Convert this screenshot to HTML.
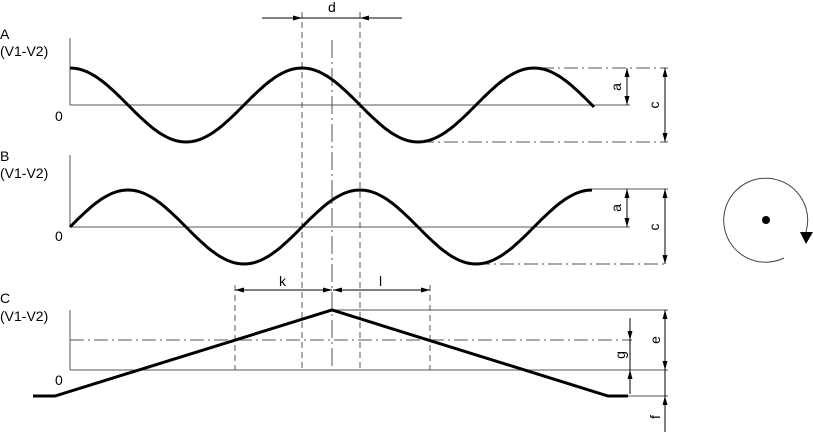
<!DOCTYPE html>
<html><head><meta charset="utf-8"><style>
body{margin:0;background:#fff;}
svg{display:block;font-family:"Liberation Sans",sans-serif;}
text{font-size:14px;fill:#000;}
</style></head><body>
<svg id="s" width="813" height="432" viewBox="0 0 813 432" xmlns="http://www.w3.org/2000/svg">
<defs>
<marker id="ar" markerWidth="9" markerHeight="6" refX="9" refY="3" orient="auto" markerUnits="userSpaceOnUse"><path d="M0,0.5 L9,3 L0,5.5 z" fill="#000"/></marker>
</defs>
<g stroke="#555" stroke-width="1" fill="none">
<line x1="70" y1="38" x2="70" y2="105"/>
<line x1="70" y1="105" x2="630" y2="105"/>
<line x1="540" y1="68" x2="668" y2="68" stroke-dasharray="14,4,2,4"/>
<line x1="420" y1="142" x2="668" y2="142" stroke-dasharray="14,4,2,4"/>
<line x1="70" y1="155" x2="70" y2="227"/>
<line x1="70" y1="227" x2="630" y2="227"/>
<line x1="592" y1="189" x2="668" y2="189"/>
<line x1="476" y1="264" x2="668" y2="264" stroke-dasharray="14,4,2,4"/>
<line x1="70" y1="310" x2="70" y2="370"/>
<line x1="70" y1="370" x2="668" y2="370"/>
<line x1="332" y1="310" x2="668" y2="310"/>
<line x1="628" y1="396" x2="668" y2="396"/>
<line x1="70" y1="340" x2="632" y2="340" stroke-dasharray="14,4,2,4"/>
<line x1="302" y1="12" x2="302" y2="370" stroke-dasharray="6,4"/>
<line x1="360" y1="12" x2="360" y2="370" stroke-dasharray="6,4"/>
<line x1="332" y1="40" x2="332" y2="370" stroke-dasharray="18,4,2,4"/>
<line x1="235" y1="285" x2="235" y2="370" stroke-dasharray="6,4"/>
<line x1="430" y1="285" x2="430" y2="370" stroke-dasharray="6,4"/>
</g>
<g stroke="#000" stroke-width="1" fill="none">
<line x1="262" y1="18" x2="302" y2="18" marker-end="url(#ar)"/>
<line x1="302" y1="18" x2="360" y2="18"/>
<line x1="402" y1="18" x2="360" y2="18" marker-end="url(#ar)"/>
<line x1="627" y1="86" x2="627" y2="68" marker-end="url(#ar)"/>
<line x1="627" y1="86" x2="627" y2="105" marker-end="url(#ar)"/>
<line x1="665" y1="105" x2="665" y2="68" marker-end="url(#ar)"/>
<line x1="665" y1="105" x2="665" y2="142" marker-end="url(#ar)"/>
<line x1="627" y1="208" x2="627" y2="189" marker-end="url(#ar)"/>
<line x1="627" y1="208" x2="627" y2="227" marker-end="url(#ar)"/>
<line x1="665" y1="226" x2="665" y2="189" marker-end="url(#ar)"/>
<line x1="665" y1="226" x2="665" y2="264" marker-end="url(#ar)"/>
<line x1="283" y1="290" x2="235" y2="290" marker-end="url(#ar)"/>
<line x1="283" y1="290" x2="332" y2="290" marker-end="url(#ar)"/>
<line x1="381" y1="290" x2="333" y2="290" marker-end="url(#ar)"/>
<line x1="381" y1="290" x2="430" y2="290" marker-end="url(#ar)"/>
<line x1="630" y1="318" x2="630" y2="340" marker-end="url(#ar)"/>
<line x1="630" y1="340" x2="630" y2="370"/>
<line x1="630" y1="394" x2="630" y2="370" marker-end="url(#ar)"/>
<line x1="665" y1="340" x2="665" y2="310" marker-end="url(#ar)"/>
<line x1="665" y1="340" x2="665" y2="370" marker-end="url(#ar)"/>
<line x1="665" y1="370" x2="665" y2="396"/>
<line x1="665" y1="432" x2="665" y2="396" marker-end="url(#ar)"/>
</g>
<path id="wa" stroke="#000" stroke-width="3" fill="none"/>
<path id="wb" stroke="#000" stroke-width="3" fill="none"/>
<polyline points="33,396 55,396 332,310 608,396 628,396" stroke="#000" stroke-width="3" fill="none"/>
<path d="M784,258 A42,42 0 1 1 806,232" stroke="#444" stroke-width="1" fill="none"/>
<path d="M800,232 L813,232 L806,244 z" fill="#000"/>
<circle cx="766" cy="220" r="4" fill="#000"/>
<text x="0" y="39">A</text><text x="0" y="56">(V1-V2)</text><text x="55" y="121">0</text>
<text x="0" y="161">B</text><text x="0" y="178">(V1-V2)</text><text x="55" y="241">0</text>
<text x="0" y="303">C</text><text x="0" y="321">(V1-V2)</text><text x="55" y="385">0</text>
<text x="328" y="12">d</text><text x="279" y="286">k</text><text x="379" y="286">l</text>
<g>
<text transform="translate(621,87) rotate(-90)" text-anchor="middle">a</text>
<text transform="translate(659,105) rotate(-90)" text-anchor="middle">c</text>
<text transform="translate(621,208) rotate(-90)" text-anchor="middle">a</text>
<text transform="translate(659,227) rotate(-90)" text-anchor="middle">c</text>
<text transform="translate(625,355) rotate(-90)" text-anchor="middle">g</text>
<text transform="translate(660,340) rotate(-90)" text-anchor="middle">e</text>
<text transform="translate(660,417) rotate(-90)" text-anchor="middle">f</text>
</g>
</svg>
<script>
function w(id,y0,ph,x1){var d="";for(var x=70;x<=x1;x+=2){var y=y0-37*Math.cos(2*Math.PI*(x-70)/232+ph);d+=(x==70?"M":"L")+x+","+y.toFixed(1);}document.getElementById(id).setAttribute("d",d);}
w("wa",105,0,594);w("wb",227,-Math.PI/2,592);
</script>
</body></html>
